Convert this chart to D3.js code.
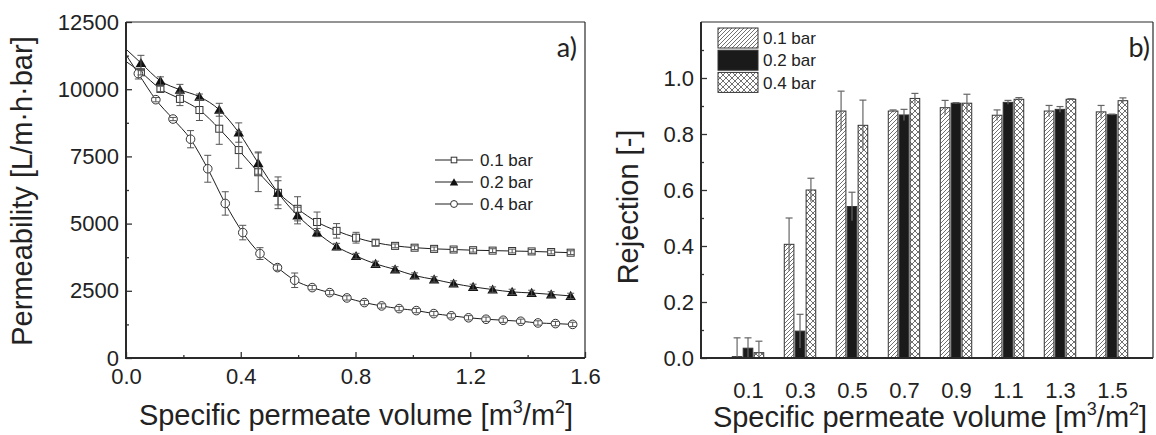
<!DOCTYPE html>
<html>
<head>
<meta charset="utf-8">
<script src="https://cdn.jsdelivr.net/npm/d3@7"></script>
<style>
  body { margin: 0; background: #fff; }
  svg text { font-family: "Liberation Sans", Arial, sans-serif; fill: #222; }
  .tick line { stroke: #333; stroke-width: 1.3; }
  .panel-tag { font-family: Lato, "Open Sans", sans-serif !important; }
</style>
</head>
<body>
<svg id="chart" width="1156" height="435"></svg>
<script>
// ---- panel a) permeability ----
const volA = [0.052, 0.120, 0.188, 0.256, 0.325, 0.393, 0.461, 0.530, 0.598, 0.666, 0.734, 0.802,
              0.870, 0.938, 1.006, 1.074, 1.142, 1.210, 1.278, 1.346, 1.414, 1.482, 1.550];
const volC = [0.043, 0.104, 0.164, 0.225, 0.285, 0.346, 0.407, 0.467, 0.528, 0.588, 0.649, 0.710, 0.770,
              0.831, 0.891, 0.952, 1.012, 1.073, 1.134, 1.194, 1.255, 1.315, 1.376, 1.436, 1.497, 1.557];

const perm01 = [10630, 10010, 9640, 9225, 8530, 7735, 6910, 6145, 5550, 5060, 4730, 4475,
                4290, 4172, 4104, 4060, 4036, 4010, 3995, 3980, 3965, 3942, 3918];
const permErr01 = [100, 100, 250, 390, 580, 680, 720, 450, 450, 370, 270, 200,
                   110, 70, 70, 70, 70, 70, 70, 70, 70, 70, 70];

const perm02 = [10975, 10310, 9980, 9720, 9235, 8387, 7250, 6146, 5300, 4666, 4145, 3793,
                3500, 3297, 3066, 2924, 2770, 2645, 2546, 2458, 2421, 2366, 2309];
const permErr02 = [285, 150, 200, 100, 240, 360, 415, 590, 310, 150, 120, 100,
                   100, 100, 100, 100, 100, 100, 100, 100, 100, 100, 100];

const perm04 = [10580, 9610, 8890, 8140, 7040, 5750, 4666, 3884, 3363, 2892, 2619, 2432, 2235,
                2062, 1937, 1838, 1764, 1652, 1570, 1496, 1442, 1405, 1367, 1304, 1280, 1250];
const permErr04 = [200, 80, 60, 320, 500, 435, 270, 220, 100, 270, 80, 80, 80,
                   80, 80, 80, 80, 80, 80, 80, 80, 80, 80, 80, 80, 80];

// where each fitted curve meets the y axis (0.1, 0.2, 0.4 bar)
const permAtZero = [11030, 11490, 11280];

const seriesNames = ["0.1 bar", "0.2 bar", "0.4 bar"];

// ---- panel b) rejection ----
const volB = [0.1, 0.3, 0.5, 0.7, 0.9, 1.1, 1.3, 1.5];
const rej01 = [0.005, 0.406, 0.882, 0.882, 0.894, 0.867, 0.882, 0.879];
const rejErr01 = [0.067, 0.094, 0.071, 0.004, 0.026, 0.019, 0.020, 0.023];
const rej02 = [0.035, 0.096, 0.541, 0.868, 0.910, 0.913, 0.888, 0.869];
const rejErr02 = [0.037, 0.060, 0.051, 0.020, 0.002, 0.007, 0.010, 0.002];
const rej04 = [0.019, 0.600, 0.831, 0.927, 0.910, 0.924, 0.924, 0.919];
const rejErr04 = [0.041, 0.042, 0.090, 0.018, 0.032, 0.006, 0.002, 0.010];

const svg = d3.select("#chart");
const ink = "#2a2a2a";

// patterns for the bars
const defs = svg.append("defs");
const hatch = defs.append("pattern").attr("id", "hatch")
  .attr("patternUnits", "userSpaceOnUse").attr("width", 4).attr("height", 4);
hatch.append("rect").attr("width", 4).attr("height", 4).attr("fill", "#fff");
hatch.append("path").attr("d", "M-1,1 l2,-2 M0,4 l4,-4 M3,5 l2,-2")
  .attr("stroke", "#333").attr("stroke-width", 0.7);
const cross = defs.append("pattern").attr("id", "cross")
  .attr("patternUnits", "userSpaceOnUse").attr("width", 6).attr("height", 6);
cross.append("rect").attr("width", 6).attr("height", 6).attr("fill", "#fff");
cross.append("path").attr("d", "M0,0 l6,6 M0,6 l6,-6")
  .attr("stroke", "#333").attr("stroke-width", 0.7);

function superTitle(g, x, y) {
  const t = g.append("text").attr("x", x).attr("y", y)
    .attr("text-anchor", "middle").attr("font-size", 29);
  t.append("tspan").text("Specific permeate volume [m");
  t.append("tspan").attr("dy", -12).attr("font-size", 18).text("3");
  t.append("tspan").attr("dy", 12).text("/m");
  t.append("tspan").attr("dy", -12).attr("font-size", 18).text("2");
  t.append("tspan").attr("dy", 12).text("]");
}

function frame(left, right, top, bottom) {
  svg.append("line").attr("x1", left).attr("x2", right).attr("y1", top).attr("y2", top)
    .attr("stroke", ink).attr("stroke-width", 1.2);
  svg.append("line").attr("x1", right).attr("x2", right).attr("y1", top).attr("y2", bottom)
    .attr("stroke", ink).attr("stroke-width", 1.2);
  svg.append("line").attr("x1", left).attr("x2", left).attr("y1", top).attr("y2", bottom + 1)
    .attr("stroke", ink).attr("stroke-width", 2);
  svg.append("line").attr("x1", left - 1).attr("x2", right).attr("y1", bottom).attr("y2", bottom)
    .attr("stroke", ink).attr("stroke-width", 2);
}

// ================= panel a =================
const xA = d3.scaleLinear().domain([0, 1.6]).range([126, 585]);
const yA = d3.scaleLinear().domain([0, 12500]).range([358, 22]);

svg.append("g").attr("transform", "translate(0,358)")
  .call(d3.axisBottom(xA).tickValues([0, 0.4, 0.8, 1.2, 1.6]).tickSize(-6).tickPadding(10)
    .tickFormat(d3.format(".1f")))
  .call(g => g.select(".domain").remove())
  .selectAll("text").attr("font-size", 22);
svg.append("g").attr("transform", "translate(0,358)")
  .call(d3.axisBottom(xA).tickValues([0.2, 0.6, 1.0, 1.4]).tickSize(-3).tickFormat(""))
  .call(g => g.select(".domain").remove());
svg.append("g").attr("transform", "translate(126,0)")
  .call(d3.axisLeft(yA).tickValues([0, 2500, 5000, 7500, 10000, 12500]).tickSize(-6).tickPadding(7)
    .tickFormat(d3.format("d")))
  .call(g => g.select(".domain").remove())
  .selectAll("text").attr("font-size", 22);
svg.append("g").attr("transform", "translate(126,0)")
  .call(d3.axisLeft(yA).tickValues([1250, 3750, 6250, 8750, 11250]).tickSize(-3).tickFormat(""))
  .call(g => g.select(".domain").remove());

const seriesA = [
  { name: seriesNames[0], x: volA, y: perm01, e: permErr01, start: permAtZero[0], shape: "square" },
  { name: seriesNames[1], x: volA, y: perm02, e: permErr02, start: permAtZero[1], shape: "triangle" },
  { name: seriesNames[2], x: volC, y: perm04, e: permErr04, start: permAtZero[2], shape: "circle" }
];

const curve = d3.line().x(d => xA(d[0])).y(d => yA(d[1])).curve(d3.curveMonotoneX);
const plotA = svg.append("g");

seriesA.forEach(s => {
  const pts = [[0, s.start]].concat(s.x.map((v, i) => [v, s.y[i]]));
  plotA.append("path").attr("d", curve(pts)).attr("fill", "none")
    .attr("stroke", "#1e1e1e").attr("stroke-width", 1);
});

function marker(g, shape, cx, cy, scale) {
  if (shape === "square") {
    const a = 7 * scale;
    g.append("rect").attr("x", cx - a / 2).attr("y", cy - a / 2).attr("width", a).attr("height", a)
      .attr("fill", "#fff").attr("stroke", "#333").attr("stroke-width", 1);
  } else if (shape === "triangle") {
    g.append("path").attr("d", d3.symbol(d3.symbolTriangle, 48 * scale * scale)())
      .attr("transform", `translate(${cx},${cy + 1})`).attr("fill", "#111");
  } else {
    g.append("circle").attr("cx", cx).attr("cy", cy).attr("r", 4.3 * scale)
      .attr("fill", "#fff").attr("stroke", "#333").attr("stroke-width", 1);
  }
}

seriesA.forEach(s => {
  s.x.forEach((v, i) => marker(plotA, s.shape, xA(v), yA(s.y[i]), 1));
});

// error bars with caps at both ends
seriesA.forEach(s => {
  s.x.forEach((v, i) => {
    const cx = xA(v), y1 = yA(s.y[i] + s.e[i]), y2 = yA(s.y[i] - s.e[i]);
    const g = plotA.append("g").attr("stroke", "#555").attr("stroke-width", 1);
    g.append("line").attr("x1", cx).attr("x2", cx).attr("y1", y1).attr("y2", y2);
    g.append("line").attr("x1", cx - 3.5).attr("x2", cx + 3.5).attr("y1", y1).attr("y2", y1);
    g.append("line").attr("x1", cx - 3.5).attr("x2", cx + 3.5).attr("y1", y2).attr("y2", y2);
  });
});

// legend a
const legA = svg.append("g");
seriesA.forEach((s, i) => {
  const ly = 160 + i * 22;
  legA.append("line").attr("x1", 435).attr("x2", 473).attr("y1", ly).attr("y2", ly)
    .attr("stroke", "#1e1e1e").attr("stroke-width", 1);
  marker(legA, s.shape, 454, ly, 0.8);
  legA.append("text").attr("x", 480).attr("y", ly).attr("dy", "0.36em")
    .attr("font-size", 17).text(s.name);
});

frame(126, 585, 22, 358);
svg.append("text").attr("class", "panel-tag").attr("x", 577).attr("y", 57)
  .attr("text-anchor", "end").attr("font-size", 27).text("a)");

superTitle(svg, 356, 425);
svg.append("text").attr("transform", "translate(32,191) rotate(-90)")
  .attr("text-anchor", "middle").attr("font-size", 29).text("Permeability [L/m\u00b7h\u00b7bar]");

// ================= panel b =================
const xB = d3.scaleLinear().domain([-0.0808, 1.6577]).range([701, 1153]);
const yB = d3.scaleLinear().domain([0, 1.2]).range([358, 22]);

svg.append("g").attr("transform", "translate(0,358)")
  .call(d3.axisBottom(xB).tickValues(volB).tickSize(0).tickPadding(24).tickFormat(d3.format(".1f")))
  .call(g => g.select(".domain").remove())
  .selectAll("text").attr("font-size", 22);
svg.append("g").attr("transform", "translate(701,0)")
  .call(d3.axisLeft(yB).tickValues([0, 0.2, 0.4, 0.6, 0.8, 1.0]).tickSize(-6).tickPadding(7)
    .tickFormat(d3.format(".1f")))
  .call(g => g.select(".domain").remove())
  .selectAll("text").attr("font-size", 22);
svg.append("g").attr("transform", "translate(701,0)")
  .call(d3.axisLeft(yB).tickValues([0.1, 0.3, 0.5, 0.7, 0.9, 1.1]).tickSize(-3).tickFormat(""))
  .call(g => g.select(".domain").remove());

const seriesB = [
  { name: seriesNames[0], v: rej01, e: rejErr01, fill: "url(#hatch)", off: -0.042 },
  { name: seriesNames[1], v: rej02, e: rejErr02, fill: "#1a1a1a", off: 0 },
  { name: seriesNames[2], v: rej04, e: rejErr04, fill: "url(#cross)", off: 0.042 }
];
const barW = xB(0.037) - xB(0);
const plotB = svg.append("g");

seriesB.forEach(s => {
  plotB.selectAll(null).data(volB).enter().append("rect")
    .attr("x", (d) => xB(d + s.off) - barW / 2)
    .attr("y", (d, i) => yB(s.v[i]))
    .attr("width", barW)
    .attr("height", (d, i) => yB(0) - yB(s.v[i]))
    .attr("fill", s.fill).attr("stroke", "#333").attr("stroke-width", 1);
});

// error bars, cap on top only
seriesB.forEach(s => {
  volB.forEach((d, i) => {
    const cx = xB(d + s.off), y1 = yB(s.v[i] + s.e[i]), y2 = yB(Math.max(0, s.v[i] - s.e[i]));
    const g = plotB.append("g").attr("stroke", "#666").attr("stroke-width", 1.2);
    g.append("line").attr("x1", cx).attr("x2", cx).attr("y1", y1).attr("y2", y2);
    g.append("line").attr("x1", cx - 3.5).attr("x2", cx + 3.5).attr("y1", y1).attr("y2", y1);
  });
});

// legend b
const legB = svg.append("g");
seriesB.forEach((s, i) => {
  const ty = 28 + i * 22.2;
  legB.append("rect").attr("x", 718).attr("y", ty).attr("width", 40).attr("height", 20)
    .attr("fill", s.fill).attr("stroke", "#333").attr("stroke-width", 1);
  legB.append("text").attr("x", 763).attr("y", ty + 10).attr("dy", "0.36em")
    .attr("font-size", 17).text(s.name);
});

frame(701, 1153, 22, 358);
svg.append("text").attr("class", "panel-tag").attr("x", 1150).attr("y", 57)
  .attr("text-anchor", "end").attr("font-size", 27).text("b)");

superTitle(svg, 930, 427);
svg.append("text").attr("transform", "translate(638,207) rotate(-90)")
  .attr("text-anchor", "middle").attr("font-size", 29).text("Rejection [-]");
</script>
</body>
</html>
